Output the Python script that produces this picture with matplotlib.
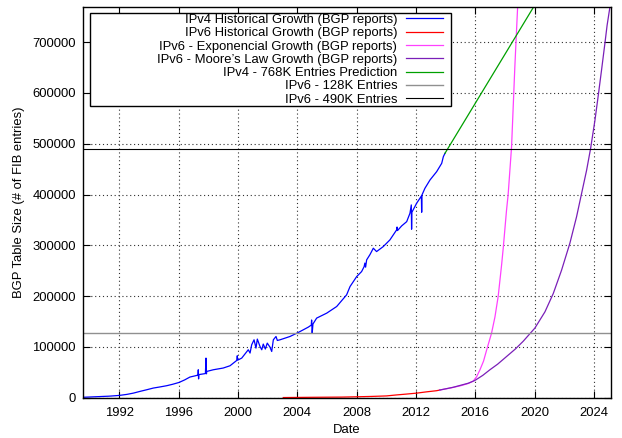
import matplotlib
matplotlib.use("Agg")
import matplotlib.pyplot as plt

plt.rcParams['font.family'] = ['Liberation Sans', 'DejaVu Sans']
plt.rcParams['font.size'] = 9.4

# IPv4 BGP table size
ipv4_years = [1989.53, 1990.5, 1991.3, 1992.0, 1992.5, 1992.94, 1993.4, 1993.85, 1994.29, 1994.7,
              1995.19, 1995.6, 1996.02, 1996.4, 1996.76, 1997.1, 1997.3, 1997.32, 1997.34, 1997.36,
              1997.8, 1997.84, 1997.87, 1997.89, 1998.33, 1999.0, 1999.46, 1999.91, 1999.95, 1999.98,
              2000.25, 2000.69, 2000.81, 2000.92, 2001.08, 2001.21, 2001.3, 2001.48, 2001.6, 2001.7,
              2001.84, 2001.97, 2002.15, 2002.27, 2002.38, 2002.56, 2002.65, 2002.83, 2003.5, 2004.06,
              2004.74, 2004.94, 2004.96, 2005.0, 2005.05, 2005.3, 2005.98, 2006.65, 2007.32, 2007.55,
              2008.0, 2008.33, 2008.5, 2008.55, 2008.6, 2008.67, 2008.9, 2009.12, 2009.34, 2009.79,
              2010.24, 2010.69, 2010.72, 2010.75, 2011.03, 2011.37, 2011.59, 2011.68, 2011.7, 2011.72,
              2012.04, 2012.36, 2012.38, 2012.4, 2012.6, 2012.94, 2013.39, 2013.73, 2013.84, 2013.95]
ipv4_values = [800, 2000, 3000, 4500, 6500, 9000, 12500, 15700, 19000, 21000,
               23600, 26500, 30000, 35000, 40700, 43000, 44500, 55000, 37000, 45500,
               47500, 78000, 47000, 51700, 55000, 58400, 62900, 73300, 82600, 74000,
               78000, 94400, 87900, 104200, 114000, 97700, 115400, 100900, 94400, 105600,
               95800, 107500, 99700, 91000, 114000, 120500, 112700, 114000, 120500, 128400,
               139000, 143000, 153000, 127000, 145000, 156700, 166500, 179500, 202500, 218800,
               238500, 248300, 258000, 265000, 257000, 271300, 282000, 294300, 287700, 297500,
               310700, 330300, 336000, 329000, 338200, 346600, 363100, 379500, 331700, 365000,
               382800, 397000, 365100, 399100, 412300, 428600, 445000, 461400, 474400, 481100]

# IPv6 historical
ipv6_years = [2003.05, 2005.0, 2007.0, 2008.0, 2009.0, 2010.0, 2010.7, 2011.3, 2012.04, 2012.7, 2013.39, 2013.6]
ipv6_values = [300, 800, 1200, 1800, 2500, 3500, 5500, 7000, 9000, 11500, 13800, 15100]

# IPv6 exponential projection
exp_years = [2013.6, 2014.3, 2015.0, 2015.52, 2015.85, 2016.08, 2016.31, 2016.55, 2016.76, 2017.09,
             2017.32, 2017.54, 2017.77, 2017.88, 2018.1, 2018.21, 2018.44, 2018.66, 2018.85]
exp_values = [15100, 19000, 23500, 28000, 32500, 41000, 55000, 72000, 94000, 127000,
              159000, 200000, 262000, 295000, 369000, 400000, 494000, 651000, 770000]

# IPv6 Moore's law projection
moore_years = [2013.6, 2014.5, 2015.52, 2015.97, 2016.5, 2016.98, 2017.5, 2018.1, 2018.7, 2019.22,
               2020.01, 2020.69, 2021.25, 2021.81, 2022.37, 2022.82, 2023.16, 2023.5, 2023.77, 2024.06,
               2024.28, 2024.51, 2024.73, 2024.88, 2025.07]
moore_values = [15100, 20500, 28500, 34000, 44000, 55000, 66000, 81000, 96000, 111000,
                137000, 169000, 205000, 251000, 304000, 356000, 402000, 448000, 491000, 546000,
                594000, 646000, 697000, 733000, 769000]

# IPv4 768K prediction
pred_years = [2013.95, 2019.9]
pred_values = [481100, 768000]

limit_128k = 128000
limit_490k = 490000

fig = plt.figure(figsize=(6.22, 4.38), dpi=100)
ax = fig.add_axes([0.133, 0.092, 0.849, 0.893])

ax.plot(ipv4_years, ipv4_values, color="#0000ff", lw=0.9, label="IPv4 Historical Growth (BGP reports)")
ax.plot(ipv6_years, ipv6_values, color="#ff0000", lw=0.9, label="IPv6 Historical Growth (BGP reports)")
ax.plot(exp_years, exp_values, color="#ff40ff", lw=0.9, label="IPv6 - Exponencial Growth (BGP reports)")
ax.plot(moore_years, moore_values, color="#7a1fb8", lw=0.9, label="IPv6 - Moore\u2019s Law Growth (BGP reports)")
ax.plot(pred_years, pred_values, color="#00a000", lw=0.9, label="IPv4 - 768K Entries Prediction")
ax.axhline(limit_128k, color="#909090", lw=1.0, label="IPv6 - 128K Entries")
ax.axhline(limit_490k, color="#000000", lw=0.8, label="IPv6 - 490K Entries")

ax.set_xlim(1989.53, 2025.13)
ax.set_ylim(0, 770000)
ax.set_xticks(range(1992, 2025, 4))
ax.set_yticks(range(0, 700001, 100000))
ax.grid(True, color="#303030", lw=0.8, linestyle=(0, (1, 2.5)))
ax.tick_params(direction="in", top=True, right=True, length=5, width=0.8, pad=5)
ax.tick_params(axis="x", pad=6.5)
for s in ax.spines.values():
    s.set_linewidth(1.0)

ax.set_xlabel("Date", labelpad=3.5)
ax.set_ylabel("BGP Table Size (# of FIB entries)", labelpad=5)

leg = ax.legend(loc="upper left", bbox_to_anchor=(0.0138, 0.983), borderaxespad=0,
                markerfirst=False, frameon=True, fancybox=False, edgecolor="black",
                framealpha=1, handlelength=2.8, handletextpad=0.7, borderpad=0.05,
                labelspacing=0.088)
leg.get_frame().set_linewidth(1.0)
# gnuplot style key: fixed width box, entries right-aligned
leg._legend_box.align = "left"
leg._legend_box.width = 359.7
for col in leg._legend_handle_box.get_children():
    col.align = "right"
    col.width = 352.3

fig.savefig("out.png", dpi=100)
